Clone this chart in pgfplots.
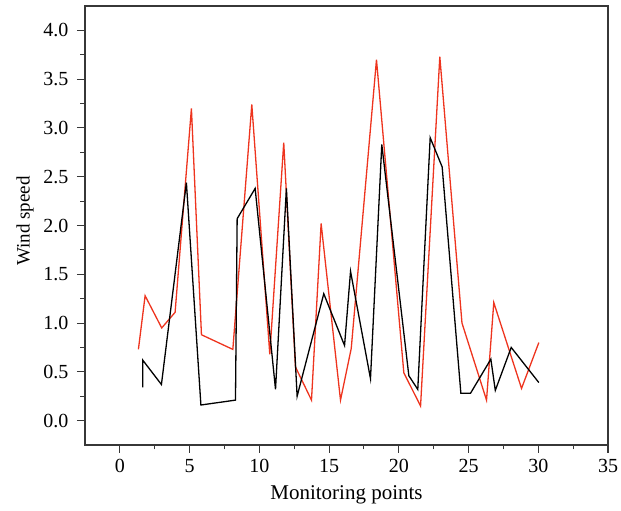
\documentclass[border=0pt]{standalone}
\usepackage{pgfplots}
\pgfplotsset{compat=1.18}
\usepackage{fontspec}
\setmainfont{Liberation Serif}
\definecolor{redline}{RGB}{238,52,30}
\definecolor{axgray}{RGB}{55,55,55}
\begin{document}
\begin{tikzpicture}
\begin{axis}[name=ax, scale only axis, width=523pt, height=439pt,
  xmin=-2.5, xmax=35, ymin=-0.25, ymax=4.25,
  xtick={0,5,...,35}, ytick={0,0.5,...,4},
  minor x tick num=1, minor y tick num=1,
  tick pos=left, tick align=outside,
  major tick length=8pt, minor tick length=4.5pt,
  /pgf/number format/assume math mode=true,
  tick label style={font=\fontsize{20}{23}\selectfont},
  yticklabel style={/pgf/number format/fixed, /pgf/number format/fixed zerofill, /pgf/number format/precision=1, xshift=-5pt},
  xticklabel style={yshift=-3pt},
  xlabel={Monitoring points}, ylabel={Wind speed},
  xlabel style={font=\fontsize{21}{24}\selectfont, at={(axis description cs:0.5,-0.1139)}, anchor=center},
  ylabel style={font=\fontsize{19}{22}\selectfont, at={(axis description cs:-0.1147,0.51)}, anchor=center},
  axis line style={axgray, line width=1.2pt},
  every tick/.style={axgray, line width=1.1pt},
  clip=false]
\addplot[redline, line width=1.3pt] coordinates {
(1.33,0.73) (1.81,1.28) (3.00,0.95) (3.96,1.11) (5.13,3.20) (5.85,0.88)
(8.10,0.73) (9.46,3.24) (10.75,0.68) (11.75,2.85) (12.59,0.55) (13.74,0.21)
(14.43,2.02) (15.82,0.21) (16.59,0.74) (18.40,3.70) (20.36,0.49) (21.56,0.15)
(22.94,3.73) (24.53,1.00) (26.29,0.21) (26.81,1.21) (28.80,0.33) (30.04,0.80)};
\addplot[black, line width=1.3pt] coordinates {
(1.64,0.34) (1.64,0.62) (2.98,0.37) (4.77,2.44) (5.81,0.16) (8.29,0.21)
(8.41,2.07) (9.70,2.38) (11.16,0.32) (11.94,2.38) (12.71,0.25) (14.62,1.30)
(16.11,0.77) (16.54,1.53) (17.97,0.43) (18.78,2.83) (20.72,0.46) (21.36,0.32)
(22.25,2.90) (23.11,2.60) (24.45,0.28) (25.14,0.28) (26.60,0.63) (26.92,0.31)
(28.06,0.75) (30.04,0.39)};
\end{axis}
\pgfresetboundingbox
\path[use as bounding box] ([xshift=-85pt,yshift=-66pt]ax.south west) rectangle ([xshift=13pt,yshift=6pt]ax.north east);
\end{tikzpicture}
\end{document}
